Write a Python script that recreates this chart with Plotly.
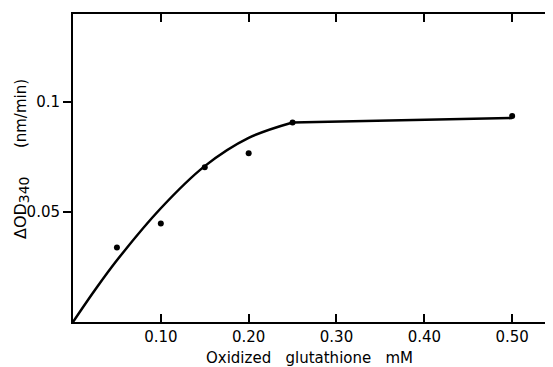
import plotly.graph_objects as go

# measured points
conc_mM = [0.05, 0.10, 0.15, 0.20, 0.25, 0.50]
rate = [0.0338, 0.0447, 0.0702, 0.0765, 0.0905, 0.0934]

# fitted curve: rising part and plateau
rise_x = [0.0, 0.025, 0.05, 0.10, 0.15, 0.20, 0.25]
rise_y = [0.0, 0.0145, 0.0280, 0.0516, 0.0707, 0.0835, 0.0905]
plateau_x = [0.25, 0.50]
plateau_y = [0.0905, 0.0925]

x_tickvals = [0.10, 0.20, 0.30, 0.40, 0.50]
x_ticktext = ["0.10", "0.20", "0.30", "0.40", "0.50"]
y_tickvals = [0.05, 0.1]
y_ticktext = ["0.05", "0.1"]

FONT = "DejaVu Sans"

fig = go.Figure()
fig.add_trace(go.Scatter(x=rise_x, y=rise_y, mode="lines",
                         line=dict(color="black", width=2.5, shape="spline", smoothing=1.0),
                         hoverinfo="skip", showlegend=False))
fig.add_trace(go.Scatter(x=plateau_x, y=plateau_y, mode="lines",
                         line=dict(color="black", width=2.5),
                         hoverinfo="skip", showlegend=False))
fig.add_trace(go.Scatter(x=conc_mM, y=rate, mode="markers",
                         marker=dict(color="black", size=6),
                         showlegend=False))
# empty trace to activate right-side tick axis
fig.add_trace(go.Scatter(x=[None], y=[None], yaxis="y2", showlegend=False, hoverinfo="skip"))

fig.update_layout(
    width=545, height=359,
    margin=dict(l=65, r=0, t=6, b=45),
    paper_bgcolor="white", plot_bgcolor="white",
    font=dict(family=FONT, color="black", size=15),
    xaxis=dict(range=[0, 0.5465], tickvals=x_tickvals, ticktext=x_ticktext,
               ticks="inside", ticklen=8, tickwidth=2, tickcolor="black",
               showline=True, linecolor="black", linewidth=2, mirror="ticks",
               showgrid=False, zeroline=False,
               tickfont=dict(family=FONT, size=15, color="black")),
    yaxis=dict(range=[0, 0.1397], tickvals=y_tickvals, ticktext=y_ticktext,
               ticks="outside", ticklen=8, tickwidth=2, tickcolor="black",
               showline=True, linecolor="black", linewidth=2,
               showgrid=False, zeroline=False,
               tickfont=dict(family=FONT, size=15, color="black")),
    yaxis2=dict(matches="y", overlaying="y", side="right", tickvals=y_tickvals,
                ticks="inside", ticklen=8, tickwidth=2, tickcolor="black",
                showticklabels=False, showline=False, showgrid=False, zeroline=False),
    annotations=[
        dict(text="Oxidized\u00a0\u00a0 glutathione\u00a0\u00a0 mM", xref="paper", yref="paper",
             x=0.4917, y=-0.117, xanchor="center", yanchor="middle", showarrow=False,
             font=dict(family=FONT, size=15, color="black")),
        dict(text="(nm/min)", xref="paper", yref="paper", textangle=-90,
             x=-0.1083, y=0.675, xanchor="center", yanchor="middle", showarrow=False,
             font=dict(family=FONT, size=15, color="black")),
        dict(text="ΔOD<sub><span style='font-size:14px'>340</span></sub>",
             xref="paper", yref="paper", textangle=-90,
             x=-0.1083, y=0.370, xanchor="center", yanchor="middle", showarrow=False,
             font=dict(family=FONT, size=16, color="black")),
    ],
)

fig.write_html("out.html")
